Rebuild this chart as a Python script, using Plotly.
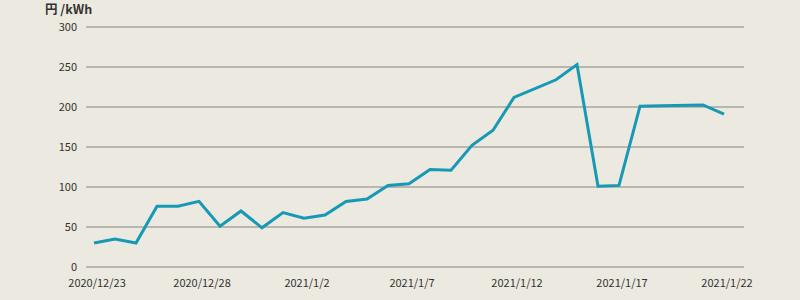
import plotly.graph_objects as go
import pandas as pd

dates = pd.date_range("2020-12-23", "2021-01-22", freq="D")
prices = [30, 35, 30, 76, 76, 82, 51, 70, 49, 68, 61, 65, 82, 85, 102, 104,
          122, 121, 152, 171, 212, 223, 234, 253, 101, 102, 201, 201.5, 202, 202.5, 191]
tick_dates = ["2020-12-23", "2020-12-28", "2021-01-02", "2021-01-07",
              "2021-01-12", "2021-01-17", "2021-01-22"]
tick_labels = ["2020/12/23", "2020/12/28", "2021/1/2", "2021/1/7",
               "2021/1/12", "2021/1/17", "2021/1/22"]
y_ticks = [0, 50, 100, 150, 200, 250, 300]
unit_label = "円 /kWh"

BG = "#ece9e0"
FONT = "Noto Sans CJK JP"

fig = go.Figure()
fig.add_trace(go.Scatter(
    x=dates, y=prices, mode="lines",
    line=dict(color="#1699b5", width=3),
    hoverinfo="skip",
))

fig.update_layout(
    width=800, height=300,
    margin=dict(l=86, r=56, t=23, b=29),
    paper_bgcolor=BG, plot_bgcolor=BG,
    showlegend=False,
    font=dict(family=FONT, size=11.5, color="#333333"),
    xaxis=dict(
        type="date", automargin=False,
        range=["2020-12-22 14:51", "2021-01-22 22:51"],
        tickvals=tick_dates, ticktext=tick_labels,
        showgrid=False, zeroline=False, showline=False,
        ticks="", ticklabelshift=3, ticklabelstandoff=4,
        tickfont=dict(family=FONT, size=11, color="#333333"),
    ),
    yaxis=dict(
        range=[-5, 305], automargin=False,
        tickvals=y_ticks,
        showgrid=True, gridcolor="#b9b6af", gridwidth=1.5,
        zeroline=False, showline=False,
        ticks="", ticklabelstandoff=8,
        tickfont=dict(family=FONT, size=11, color="#333333"),
    ),
    annotations=[dict(
        text=unit_label, xref="paper", yref="paper",
        x=-0.0658, y=1.06, xanchor="left", yanchor="middle",
        showarrow=False,
        font=dict(family=FONT, size=12.5, color="#333333", weight="bold"),
    )],
)

fig.write_html("out.html")
